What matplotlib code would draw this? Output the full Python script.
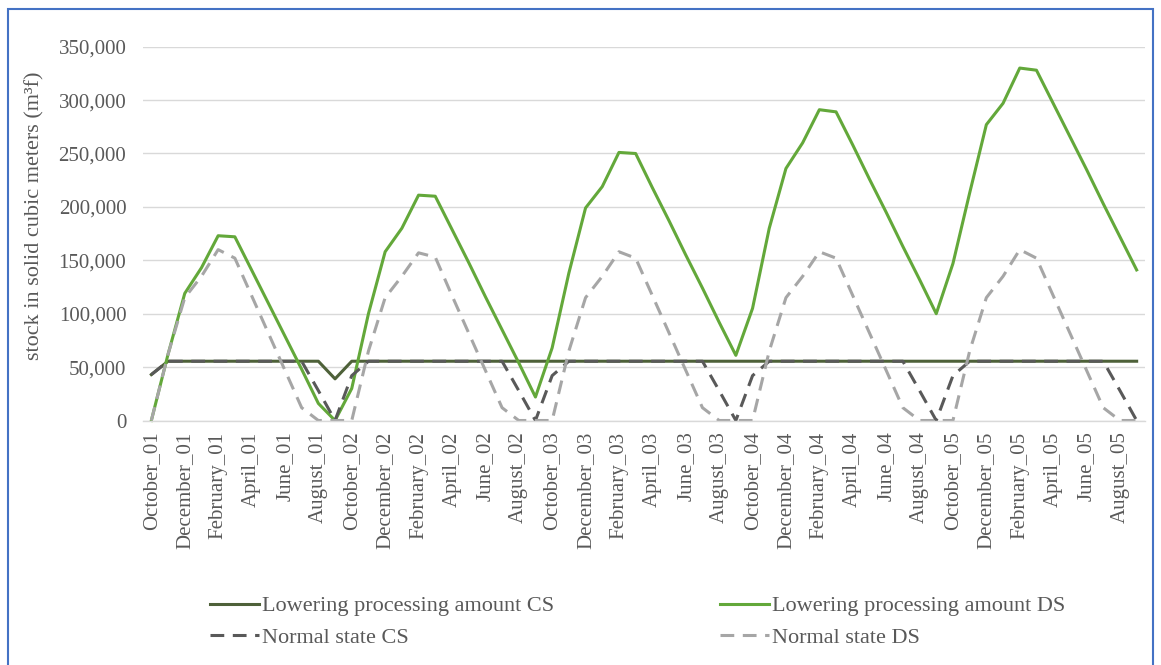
import matplotlib
matplotlib.use("Agg")
import matplotlib.pyplot as plt
from matplotlib.patches import Rectangle
from matplotlib.ticker import FuncFormatter, MultipleLocator

plt.rcParams["font.family"] = ["Liberation Serif", "DejaVu Serif"]

# Monthly categories, October to September, five seasons
month_names = ["October", "November", "December", "January", "February", "March",
               "April", "May", "June", "July", "August", "September"]
season_suffixes = ["01", "02", "03", "04", "05"]
categories = [f"{m}_{s}" for s in season_suffixes for m in month_names]

# Stock in solid cubic meters (m³f), one value per month
lowering_cs = [43000, 55500, 55500, 55500, 55500, 55500, 55500, 55500, 55500, 55500, 55500, 39000,
               55500, 55500, 55500, 55500, 55500, 55500, 55500, 55500, 55500, 55500, 55500, 55500,
               55500, 55500, 55500, 55500, 55500, 55500, 55500, 55500, 55500, 55500, 55500, 55500,
               55500, 55500, 55500, 55500, 55500, 55500, 55500, 55500, 55500, 55500, 55500, 55500,
               55500, 55500, 55500, 55500, 55500, 55500, 55500, 55500, 55500, 55500, 55500, 55500]

lowering_ds = [0, 62000, 119000, 143000, 173000, 172000, 141000, 110000, 79000, 48000, 16000, 0,
               30000, 100000, 158000, 180000, 211000, 210000, 179000, 148000, 116000, 85000, 54000, 22000,
               68000, 138000, 199000, 219000, 251000, 250000, 218000, 187000, 155000, 124000, 92000, 61000,
               105000, 180000, 236000, 260000, 291000, 289000, 258000, 226000, 195000, 163000, 132000, 100000,
               147000, 213000, 277000, 297000, 330000, 328000, 297000, 266000, 235000, 203000, 172000, 141000]

normal_cs = [43000, 55500, 55500, 55500, 55500, 55500, 55500, 55500, 55500, 55500, 28000, 0,
             42000, 55500, 55500, 55500, 55500, 55500, 55500, 55500, 55500, 55500, 28000, 0,
             42000, 55500, 55500, 55500, 55500, 55500, 55500, 55500, 55500, 55500, 28000, 0,
             42000, 55500, 55500, 55500, 55500, 55500, 55500, 55500, 55500, 55500, 28000, 0,
             42000, 55500, 55500, 55500, 55500, 55500, 55500, 55500, 55500, 55500, 28000, 0]

normal_ds = [0, 62000, 115000, 135000, 160000, 152000, 117000, 82000, 47000, 12000, 0, 0,
             0, 65000, 115000, 135000, 157000, 153000, 117000, 82000, 47000, 12000, 0, 0,
             0, 65000, 115000, 135000, 158000, 152000, 117000, 82000, 47000, 12000, 0, 0,
             0, 65000, 115000, 135000, 158000, 152000, 117000, 82000, 47000, 12000, 0, 0,
             0, 65000, 115000, 135000, 160000, 152000, 117000, 82000, 47000, 12000, 0, 0]

W, H = 1161, 665
fig = plt.figure(figsize=(W / 100, H / 100), dpi=100)
fig.patch.set_facecolor("white")

ax_left, ax_right, ax_top, ax_bottom = 143, 1145, 46.7, 420.5
ax = fig.add_axes([ax_left / W, (H - ax_bottom) / H,
                   (ax_right - ax_left) / W, (ax_bottom - ax_top) / H])

x = list(range(len(categories)))
lw = 2.2
dash = (4.5, 2.8)
l_cs, = ax.plot(x, lowering_cs, color="#4E6139", lw=lw, clip_on=False,
                solid_joinstyle="round", label="Lowering processing amount CS")
l_ds, = ax.plot(x, lowering_ds, color="#63A83A", lw=lw, clip_on=False,
                solid_joinstyle="round", label="Lowering processing amount DS")
n_cs, = ax.plot(x, normal_cs, color="#595959", lw=lw, clip_on=False,
                dashes=dash, label="Normal state CS")
n_ds, = ax.plot(x, normal_ds, color="#A6A6A6", lw=lw, clip_on=False,
                dashes=dash, label="Normal state DS")

ax.set_xlim(-0.5, len(categories) - 0.5)
ax.set_ylim(0, 350000)
ax.yaxis.set_major_locator(MultipleLocator(50000))
ax.yaxis.set_major_formatter(FuncFormatter(lambda v, p: f"{int(v):,}"))
ax.set_xticks(x[::2])
ax.set_xticklabels(categories[::2], rotation=90)

ax.grid(axis="y", color="#D9D9D9", lw=1)
ax.set_axisbelow(True)
for s in ["top", "right", "left"]:
    ax.spines[s].set_visible(False)
ax.spines["bottom"].set_color("#D9D9D9")
ax.spines["bottom"].set_linewidth(1)
ax.tick_params(axis="both", length=0, labelsize=15, colors="#595959")
ax.tick_params(axis="y", pad=12)
ax.tick_params(axis="x", pad=8)

fig.text(35 / W, 1 - 216 / H, "stock in solid cubic meters (m³f)", rotation=90,
         ha="center", va="center", fontsize=16, color="#595959")

legend_kw = dict(loc="center left", frameon=False, fontsize=16, handlelength=2.2,
                 handletextpad=0.15, labelspacing=0.5, borderpad=0, borderaxespad=0,
                 labelcolor="#595959")
fig.legend(handles=[l_cs, n_cs], bbox_to_anchor=(210 / W, 1 - 622 / H), **legend_kw)
fig.legend(handles=[l_ds, n_ds], bbox_to_anchor=(720 / W, 1 - 622 / H), **legend_kw)

fig.add_artist(Rectangle((8 / W, -0.02), (1153 - 8) / W, (H - 9) / H + 0.02,
                         transform=fig.transFigure, fill=False,
                         edgecolor="#4472C4", lw=1.5))

fig.savefig("out.png", dpi=100)
